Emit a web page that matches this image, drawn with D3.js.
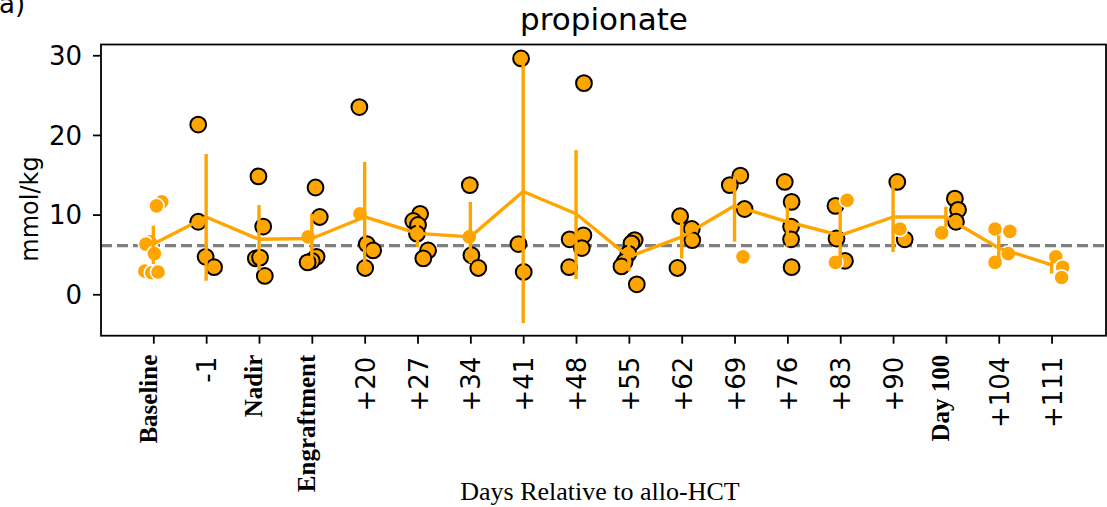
<!DOCTYPE html>
<html>
<head>
<meta charset="utf-8">
<script src="https://cdn.jsdelivr.net/npm/d3@7"></script>
<style>
  body { margin: 0; background: #fff; }
  svg { display: block; }
</style>
</head>
<body>
<div id="chart"></div>
<script>
// categories on the x axis
const categories = ["Baseline", "-1", "Nadir", "Engraftment", "+20", "+27", "+34", "+41", "+48",
                    "+55", "+62", "+69", "+76", "+83", "+90", "Day 100", "+104", "+111"];
const boldLabels = ["Baseline", "Nadir", "Engraftment", "Day 100"];

// individual samples (mmol/kg) per category
const values = [
  [11.6, 11.1, 6.6, 6.3, 5.1, 2.9, 2.7, 2.8],
  [21.3, 9.1, 4.7, 3.4],
  [14.8, 8.5, 4.5, 4.6, 2.3],
  [13.4, 9.7, 4.7, 4.2, 4.0, 7.2],
  [23.5, 10.1, 6.3, 5.5, 3.3],
  [10.1, 9.2, 8.7, 7.6, 5.5, 4.5],
  [13.7, 7.2, 4.9, 3.3],
  [29.6, 6.3, 2.8],
  [26.5, 6.9, 7.4, 5.8, 3.4],
  [6.8, 6.4, 5.1, 4.1, 3.5, 1.25],
  [9.8, 8.2, 6.8, 3.3],
  [14.9, 13.7, 10.7, 4.7],
  [14.1, 11.6, 8.5, 6.9, 3.4],
  [11.1, 11.8, 7.0, 4.0, 4.2],
  [14.1, 8.2, 6.9],
  [12.0, 10.6, 9.1, 7.7],
  [8.2, 7.9, 5.1, 4.0],
  [4.7, 3.4, 2.1]
];
// strip-plot jitter (fraction of a category step) as seen in the picture
const jitter = [
  [0.16, 0.06, -0.06, -0.14, 0.02, -0.16, -0.03, 0.09],
  [-0.15, -0.15, -0.01, 0.15],
  [-0.01, 0.08, -0.06, 0.02, 0.11],
  [0.07, 0.15, 0.09, 0.0, -0.08, -0.07],
  [-0.10, -0.09, 0.04, 0.16, 0.01],
  [0.05, -0.08, 0.01, -0.01, 0.20, 0.11],
  [-0.01, -0.02, 0.02, 0.15],
  [-0.04, -0.09, 0.01],
  [0.15, -0.12, 0.14, 0.11, -0.13],
  [0.11, 0.05, -0.01, -0.08, -0.14, 0.15],
  [-0.03, 0.19, 0.20, -0.08],
  [0.11, -0.09, 0.19, 0.16],
  [-0.05, 0.08, 0.07, 0.07, 0.08],
  [-0.09, 0.13, -0.07, -0.09, 0.09],
  [0.08, 0.13, 0.22],
  [0.17, 0.23, 0.19, -0.08],
  [-0.07, 0.21, 0.18, -0.07],
  [0.08, 0.21, 0.19]
];
// 1 = black-edged sample, 0 = plain sample
const outlined = [
  [0, 0, 0, 0, 0, 0, 0, 0],
  [1, 1, 1, 1],
  [1, 1, 1, 1, 1],
  [1, 1, 1, 1, 1, 0],
  [1, 0, 1, 1, 1],
  [1, 1, 1, 1, 1, 1],
  [1, 0, 1, 1],
  [1, 1, 1],
  [1, 1, 1, 1, 1],
  [1, 1, 1, 1, 1, 1],
  [1, 1, 1, 1],
  [1, 1, 1, 0],
  [1, 1, 1, 1, 1],
  [1, 0, 1, 0, 1],
  [1, 0, 1],
  [1, 1, 1, 0],
  [0, 0, 0, 0],
  [0, 0, 0]
];

// mean line and error bars
const means  = [6.3, 9.7, 6.9, 7.0, 9.7, 7.65, 7.2, 12.9, 10.1, 4.7, 7.2, 11.1, 9.1, 7.4, 9.7, 9.7, 5.8, 3.7];
const ciLow  = [3.8, 1.7, 3.0, 4.3, 3.5, 5.9, 3.9, -3.6, 1.9, 2.9, 4.5, 6.6, 6.0, 4.3, 5.3, 8.4, 4.3, 2.6];
const ciHigh = [8.6, 17.6, 11.2, 10.1, 16.6, 9.5, 11.6, 29.6, 18.1, 6.6, 9.6, 14.8, 11.6, 11.0, 14.0, 11.0, 7.4, 4.1];

const refLine = 6.1;
const yTicks = [0, 10, 20, 30];

const W = 1107, H = 507;
const plot = { left: 101, right: 1106, top: 44.5, bottom: 335.7 };
const orange = "#FFA500";

const svg = d3.select("#chart").append("svg")
    .attr("width", W)
    .attr("height", H);

const x = d3.scaleLinear()
    .domain([-0.99, 18.03])
    .range([plot.left, plot.right]);

const y = d3.scaleLinear()
    .domain([-5.2, 31.35])
    .range([plot.bottom, plot.top]);

// reference dashed line
svg.append("line")
    .attr("x1", plot.left).attr("x2", plot.right)
    .attr("y1", y(refLine)).attr("y2", y(refLine))
    .attr("stroke", "#808080")
    .attr("stroke-width", 3.3)
    .attr("stroke-dasharray", "11,5");

// samples
const pts = [];
values.forEach((arr, i) => arr.forEach((v, j) => {
  pts.push({ cat: i, v: v, jit: jitter[i][j], edge: outlined[i][j] });
}));

svg.append("g").selectAll("circle")
    .data(pts.filter(d => d.edge === 1))
    .enter().append("circle")
    .attr("cx", d => x(d.cat + d.jit))
    .attr("cy", d => y(d.v))
    .attr("r", 7.9)
    .attr("fill", orange)
    .attr("stroke", "#000")
    .attr("stroke-width", 2);

svg.append("g").selectAll("circle")
    .data(pts.filter(d => d.edge === 0))
    .enter().append("circle")
    .attr("cx", d => x(d.cat + d.jit))
    .attr("cy", d => y(d.v))
    .attr("r", 7.6)
    .attr("fill", orange)
    .attr("stroke", "#fff")
    .attr("stroke-width", 1.6);

// error bars
svg.append("g").selectAll("line")
    .data(categories)
    .enter().append("line")
    .attr("x1", (d, i) => x(i)).attr("x2", (d, i) => x(i))
    .attr("y1", (d, i) => y(ciLow[i]))
    .attr("y2", (d, i) => y(ciHigh[i]))
    .attr("stroke", orange)
    .attr("stroke-width", 3.4);

// mean line
const line = d3.line()
    .x((d, i) => x(i))
    .y(d => y(d));

svg.append("path")
    .datum(means)
    .attr("d", line)
    .attr("fill", "none")
    .attr("stroke", orange)
    .attr("stroke-width", 3.4)
    .attr("stroke-linejoin", "round");

// frame
svg.append("rect")
    .attr("x", plot.left).attr("y", plot.top)
    .attr("width", plot.right - plot.left)
    .attr("height", plot.bottom - plot.top)
    .attr("fill", "none")
    .attr("stroke", "#000")
    .attr("stroke-width", 1.8);

// y axis
const yAxis = svg.append("g")
    .attr("transform", "translate(" + plot.left + ",0)")
    .call(d3.axisLeft(y).tickValues(yTicks).tickSize(8).tickPadding(11));
yAxis.select(".domain").remove();
yAxis.selectAll("line").attr("stroke", "#000").attr("stroke-width", 1.8);
yAxis.selectAll("text")
    .attr("dy", "0.36em")
    .style("font-family", "DejaVu Sans")
    .style("font-size", "26px")
    .attr("fill", "#000");

// x axis
const xAxis = svg.append("g")
    .attr("transform", "translate(0," + plot.bottom + ")")
    .call(d3.axisBottom(x)
      .tickValues(d3.range(categories.length))
      .tickFormat(i => categories[i])
      .tickSize(8));
xAxis.select(".domain").remove();
xAxis.selectAll("line").attr("stroke", "#000").attr("stroke-width", 1.8);
xAxis.selectAll("text")
    .attr("x", 0).attr("y", 0).attr("dy", null)
    .attr("fill", "#000")
    .style("text-anchor", "end")
    .attr("transform", i => boldLabels.includes(categories[i])
        ? "translate(3,19) rotate(-90)"
        : "translate(9.5,21) rotate(-90)")
    .style("font-family", i => boldLabels.includes(categories[i]) ? "Liberation Serif" : "DejaVu Sans")
    .style("font-weight", i => boldLabels.includes(categories[i]) ? "bold" : "normal")
    .style("font-size", i => boldLabels.includes(categories[i]) ? "25px" : "26px");

// labels
svg.append("text")
    .attr("x", 600)
    .attr("y", 500)
    .attr("text-anchor", "middle")
    .style("font-family", "Liberation Serif")
    .style("font-size", "26px")
    .text("Days Relative to allo-HCT");

svg.append("text")
    .attr("transform", "translate(38,209) rotate(-90)")
    .attr("text-anchor", "middle")
    .style("font-family", "DejaVu Sans")
    .style("font-size", "24px")
    .text("mmol/kg");

svg.append("text")
    .attr("x", 604)
    .attr("y", 30)
    .attr("text-anchor", "middle")
    .style("font-family", "DejaVu Sans")
    .style("font-size", "31px")
    .text("propionate");

svg.append("text")
    .attr("x", -1)
    .attr("y", 13)
    .style("font-family", "DejaVu Sans")
    .style("font-size", "26px")
    .text("a)");
</script>
</body>
</html>
